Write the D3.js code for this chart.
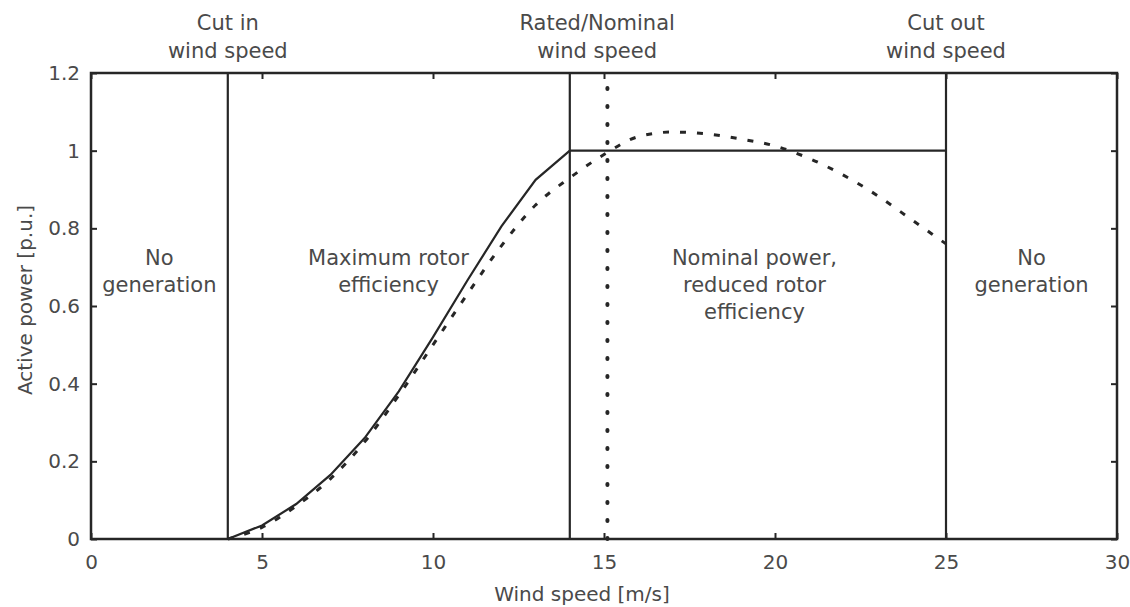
<!DOCTYPE html>
<html>
<head>
<meta charset="utf-8">
<script src="https://cdnjs.cloudflare.com/ajax/libs/d3/7.8.5/d3.min.js"></script>
<style>
  body { margin: 0; background: #fff; }
  text { font-family: "DejaVu Sans", sans-serif; fill: #4a4a4a; }
</style>
</head>
<body>
<div id="chart-area"></div>
<script>
// Ideal power curve (solid)
var idealSpeed = [4, 5, 6, 7, 8, 9, 10, 11, 12, 13, 14, 25];
var idealPower = [0, 0.035, 0.09, 0.165, 0.26, 0.38, 0.52, 0.665, 0.805, 0.925, 1.0, 1.0];

// Real power curve (dashed)
var realSpeed = [4, 5, 6, 7, 8, 9, 10, 11, 12, 13, 14, 15, 16, 17, 18, 19, 20, 21, 22, 23, 24, 25];
var realPower = [0, 0.03, 0.085, 0.155, 0.25, 0.37, 0.5, 0.63, 0.755, 0.86, 0.93, 0.99,
                 1.036, 1.048, 1.043, 1.03, 1.012, 0.98, 0.937, 0.884, 0.822, 0.76];

// Region boundaries
var solidLimits = [4, 14, 25];
var dottedLimits = [15.1];

var xTicks = [0, 5, 10, 15, 20, 25, 30];
var yTicks = [0, 0.2, 0.4, 0.6, 0.8, 1, 1.2];

var topNotes = [
    { speed: 4, lines: ["Cut in", "wind speed"] },
    { speed: 14.8, lines: ["Rated/Nominal", "wind speed"] },
    { speed: 25, lines: ["Cut out", "wind speed"] }
];
var regionNotes = [
    { speed: 2, lines: ["No", "generation"] },
    { speed: 8.7, lines: ["Maximum rotor", "efficiency"] },
    { speed: 19.4, lines: ["Nominal power,", "reduced rotor", "efficiency"] },
    { speed: 27.5, lines: ["No", "generation"] }
];

var W = 1130, H = 607;
var svg = d3.select("#chart-area").append("svg")
    .attr("width", W)
    .attr("height", H);

var x = d3.scaleLinear().domain([0, 30]).range([91, 1117]);
var y = d3.scaleLinear().domain([0, 1.2]).range([539, 73]);

var ink = "#262626";

// Axes (ticks pointing inwards, MATLAB style)
var xAxis = svg.append("g")
    .attr("transform", "translate(0," + y(0) + ")")
    .call(d3.axisBottom(x).tickValues(xTicks).tickSize(-6).tickPadding(16).tickFormat(d3.format("")));
var xTop = svg.append("g")
    .attr("transform", "translate(0," + y(1.2) + ")")
    .call(d3.axisTop(x).tickValues(xTicks).tickSize(-6).tickFormat(""));
var yAxis = svg.append("g")
    .attr("transform", "translate(" + x(0) + ",0)")
    .call(d3.axisLeft(y).tickValues(yTicks).tickSize(-6).tickPadding(11).tickFormat(d3.format("")));
var yRight = svg.append("g")
    .attr("transform", "translate(" + x(30) + ",0)")
    .call(d3.axisRight(y).tickValues(yTicks).tickSize(-6).tickFormat(""));

svg.selectAll(".domain").remove();
svg.selectAll(".tick line").attr("stroke", ink).attr("stroke-width", 2);
svg.selectAll(".tick text")
    .attr("font-size", "20px")
    .attr("fill", "#4a4a4a");

// Frame
svg.append("rect")
    .attr("x", x(0))
    .attr("y", y(1.2))
    .attr("width", x(30) - x(0))
    .attr("height", y(0) - y(1.2))
    .attr("fill", "none")
    .attr("stroke", ink)
    .attr("stroke-width", 2.5);

// Region boundaries
svg.selectAll(".limit")
    .data(solidLimits)
    .enter().append("line")
    .attr("class", "limit")
    .attr("x1", function(d){ return x(d); })
    .attr("x2", function(d){ return x(d); })
    .attr("y1", y(0))
    .attr("y2", y(1.2))
    .attr("stroke", ink)
    .attr("stroke-width", 2.2);

svg.selectAll(".dotted")
    .data(dottedLimits)
    .enter().append("line")
    .attr("class", "dotted")
    .attr("x1", function(d){ return x(d); })
    .attr("x2", function(d){ return x(d); })
    .attr("y1", y(0))
    .attr("y2", y(1.2))
    .attr("stroke", ink)
    .attr("stroke-width", 4)
    .attr("stroke-linecap", "round")
    .attr("stroke-dasharray", "1,17");

// Curves
var line = d3.line()
    .x(function(d){ return x(d[0]); })
    .y(function(d){ return y(d[1]); });

svg.append("path")
    .attr("fill", "none")
    .attr("stroke", ink)
    .attr("stroke-width", 2.2)
    .attr("d", line(d3.zip(idealSpeed, idealPower)));

svg.append("path")
    .attr("fill", "none")
    .attr("stroke", ink)
    .attr("stroke-width", 3)
    .attr("stroke-dasharray", "6,11")
    .attr("d", line.curve(d3.curveMonotoneX)(d3.zip(realSpeed, realPower)));

// Top annotations
topNotes.forEach(function(n){
    var t = svg.append("text")
        .attr("text-anchor", "middle")
        .attr("font-size", "21px");
    n.lines.forEach(function(s, i){
        t.append("tspan")
            .attr("x", x(n.speed))
            .attr("y", 30 + i * 28)
            .text(s);
    });
});

// Region annotations
regionNotes.forEach(function(n){
    var t = svg.append("text")
        .attr("text-anchor", "middle")
        .attr("font-size", "21px");
    n.lines.forEach(function(s, i){
        t.append("tspan")
            .attr("x", x(n.speed))
            .attr("y", 265 + i * 27)
            .text(s);
    });
});

// Axis labels
svg.append("text")
    .attr("x", 582)
    .attr("y", 601)
    .attr("font-size", "20px")
    .attr("text-anchor", "middle")
    .text("Wind speed [m/s]");

svg.append("text")
    .attr("transform", "rotate(-90)")
    .attr("x", -300)
    .attr("y", 32)
    .attr("font-size", "20px")
    .attr("text-anchor", "middle")
    .text("Active power [p.u.]");
</script>
</body>
</html>
